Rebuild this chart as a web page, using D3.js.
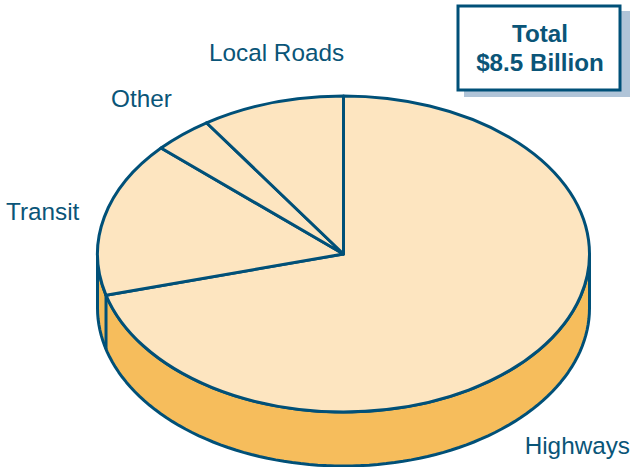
<!DOCTYPE html>
<html>
<head>
<meta charset="utf-8">
<script src="https://cdn.jsdelivr.net/npm/d3@7"></script>
<style>
  html, body { margin: 0; padding: 0; background: #fff; }
  svg { display: block; }
  text { font-family: "Liberation Sans", Arial, sans-serif; fill: #0a5578; }
</style>
</head>
<body>
<svg width="631" height="467"></svg>
<script>
// shares of the total in percent, clockwise from 12 o'clock
const categories = ["Highways", "Transit", "Other", "Local Roads"];
const shares = [70.8, 15.9, 3.9, 9.4];
const totalLines = ["Total", "$8.5 Billion"];

const ink = "#005078";
const topFill = "#fde5c0";
const sideFill = "#f6bd5c";

const svg = d3.select("svg");

const cx = 343.5, cy = 254, rx = 246, ry = 158, depth = 54;

const slices = d3.pie().sort(null)(shares);

// map pie angle (0 = up, clockwise) onto the tilted ellipse
const px = a => cx + rx * Math.sin(a);
const py = a => cy - ry * Math.cos(a);

// side wall, only the front half shows
const frontAngles = d3.range(0, 181, 2).map(d => (d + 90) * Math.PI / 180);
const line = d3.line();
const wall = frontAngles.map(a => [px(a), py(a)])
    .concat(frontAngles.slice().reverse().map(a => [px(a), py(a) + depth]));

svg.append("path")
    .attr("d", line(wall) + "Z")
    .attr("fill", sideFill)
    .attr("stroke", ink)
    .attr("stroke-width", 3)
    .attr("stroke-linejoin", "round");

// edge where highways meets transit, runs down the wall
const seam = slices[0].endAngle;
svg.append("line")
    .attr("x1", px(seam)).attr("y1", py(seam))
    .attr("x2", px(seam)).attr("y2", py(seam) + depth)
    .attr("stroke", ink)
    .attr("stroke-width", 3);

// top of the pie
const arc = d3.arc().innerRadius(0).outerRadius(rx);
svg.append("g")
    .attr("transform", `translate(${cx},${cy}) scale(1,${ry / rx})`)
    .selectAll("path")
    .data(slices)
    .join("path")
    .attr("d", arc)
    .attr("fill", topFill)
    .attr("stroke", ink)
    .attr("stroke-width", 3)
    .attr("stroke-linejoin", "round")
    .attr("vector-effect", "non-scaling-stroke");

// slice labels
const labelPos = [
    { x: 630, y: 454, anchor: "end" },
    { x: 6, y: 220, anchor: "start" },
    { x: 111, y: 107, anchor: "start" },
    { x: 209, y: 61, anchor: "start" }
];
svg.selectAll(".label")
    .data(categories)
    .join("text")
    .attr("class", "label")
    .attr("x", (d, i) => labelPos[i].x)
    .attr("y", (d, i) => labelPos[i].y)
    .attr("text-anchor", (d, i) => labelPos[i].anchor)
    .attr("font-size", 24.3)
    .text(d => d);

// total box with drop shadow
svg.append("rect")
    .attr("x", 464).attr("y", 11)
    .attr("width", 166).attr("height", 86)
    .attr("fill", "#b0c4d8");
svg.append("rect")
    .attr("x", 458).attr("y", 6)
    .attr("width", 162).attr("height", 84)
    .attr("fill", "#fff")
    .attr("stroke", ink)
    .attr("stroke-width", 3);
svg.selectAll(".total")
    .data(totalLines)
    .join("text")
    .attr("class", "total")
    .attr("x", 540)
    .attr("y", (d, i) => 42 + i * 29)
    .attr("text-anchor", "middle")
    .attr("font-size", 24.2)
    .attr("font-weight", "bold")
    .text(d => d);
</script>
</body>
</html>
